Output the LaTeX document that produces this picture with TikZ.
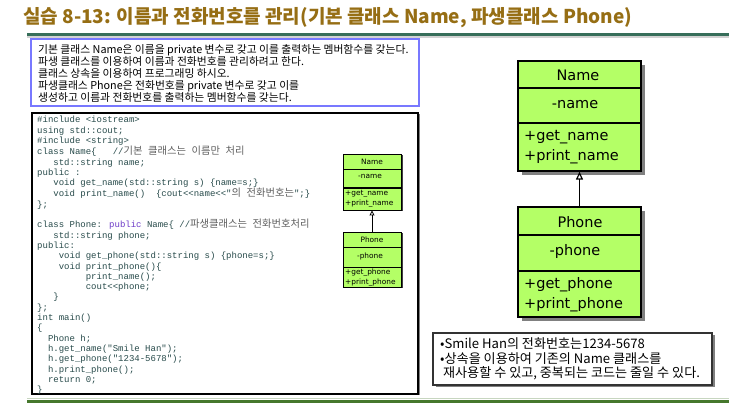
\documentclass[tikz,border=0pt]{standalone}
\usepackage{fontspec}
\usetikzlibrary{arrows.meta,shadows}
\newfontfamily\krfont{Noto Sans CJK KR}
\newfontfamily\umlfont{DejaVu Sans}
\newfontfamily\codefont{Liberation Mono}
\newcommand\spc[1]{\kern#1\fontcharwd\font`\x\relax}
\newcommand\ksp{\kern5.6pt\relax}
\definecolor{titlebrown}{RGB}{150,110,20}
\definecolor{barteal}{RGB}{55,110,90}
\definecolor{bargreen}{RGB}{70,120,45}
\definecolor{bluebd}{RGB}{120,120,255}
\definecolor{umlgreen}{RGB}{180,255,102}
\definecolor{codecol}{RGB}{40,75,75}
\definecolor{krcode}{RGB}{95,95,95}
\definecolor{kwpurple}{RGB}{110,60,200}
\newcommand\kc[1]{{\krfont\fontsize{10.3}{10.25}\selectfont\color{krcode}#1}}
\begin{document}
\begin{tikzpicture}[x=1pt,y=-1pt,
  umlbig/.style={draw=black,fill=umlgreen,line width=1.3pt,inner sep=0pt,
    drop shadow={shadow xshift=4pt,shadow yshift=-4pt,fill=gray,opacity=1}},
  umlsmall/.style={draw=black,fill=umlgreen,line width=0.9pt,inner sep=0pt,
    drop shadow={shadow xshift=1.5pt,shadow yshift=-1.5pt,fill=darkgray,opacity=1}},
  bigtxt/.style={font=\umlfont\fontsize{14.5}{17}\selectfont,inner sep=0pt},
  smalltxt/.style={font=\umlfont\fontsize{7.4}{8.5}\selectfont,inner sep=0pt},
  krtxt/.style={font=\krfont\fontsize{10.8}{12}\selectfont,inner sep=0pt},
  notetxt/.style={font=\krfont\fontsize{13.1}{14}\selectfont,inner sep=0pt},
  inherit/.style={-{Triangle[open,length=8pt,width=7pt]},line width=1.2pt},
  inheritsm/.style={-{Triangle[open,length=5pt,width=5pt]},line width=0.8pt}]
\useasboundingbox (0,0) rectangle (729,403);
\fill[white] (0,0) rectangle (729,403);

% title and bars
\node[anchor=west,inner sep=0pt,text=titlebrown,font=\krfont\bfseries\fontsize{19}{21}\selectfont] (title) at (23,18)
  {실습 8-13: 이름과 전화번호를 관리(기본 클래스 Name, 파생클래스 Phone)};
\draw[line width=3pt,barteal] (27,34.5) -- (729,34.5);
\draw[line width=1.2pt,gray!35] (27,37) -- (729,37);
\draw[line width=1pt,bargreen!30] (27,398.5) -- (729,398.5);
\draw[line width=3pt,bargreen] (27,401.5) -- (729,401.5);

% requirement box
\node[draw=bluebd,line width=2pt,minimum width=388,minimum height=67,inner sep=0pt] (req) at (225,72.5) {};
\node[krtxt,anchor=north west,align=left] (reqtext) at (38,44.5)
  {기본 클래스 Name은 이름을 private 변수로 갖고 이를 출력하는 멤버함수를 갖는다.\\
   파생 클래스를 이용하여 이름과 전화번호를 관리하려고 한다.\\
   클래스 상속을 이용하여 프로그래밍 하시오.\\
   파생클래스 Phone은 전화번호를 private 변수로 갖고 이를\\
   생성하고 이름과 전화번호를 출력하는 멤버함수를 갖는다.};

% code box
\node[draw=black,line width=1.2pt,minimum width=386,minimum height=281,inner sep=0pt,
  drop shadow={shadow xshift=1.5pt,shadow yshift=-1.5pt,fill=gray,opacity=1},fill=white] (codebox) at (225,253.5) {};
\node[anchor=north west,align=left,inner sep=0pt,text=codecol,
  font=\codefont\fontsize{9}{10.3}\selectfont] (code) at (37,116)
  {\#include <iostream>\\
   using std::cout;\\
   \#include <string>\\
   class Name\{\spc{3}//\kc{기본\ksp 클래스는\ksp 이름만\ksp 처리}\\
   \spc{3}std::string name;\\
   public :\\
   \spc{3}void get\_name(std::string s) \{name=s;\}\\
   \spc{3}void print\_name()\spc{2}\{cout<<name<<"\kc{의\ksp 전화번호는}";\}\\
   \};\\
   \mbox{}\\
   class Phone: {\color{kwpurple}public} Name\{ //\kc{파생클래스는\ksp 전화번호처리}\\
   \spc{3}std::string phone;\\
   public:\\
   \spc{4}void get\_phone(std::string s) \{phone=s;\}\\
   \spc{4}void print\_phone()\{\\
   \spc{9}print\_name();\\
   \spc{9}cout<<phone;\\
   \spc{3}\}\\
   \};\\
   int main()\\
   \{\\
   \spc{2}Phone h;\\
   \spc{2}h.get\_name("Smile Han");\\
   \spc{2}h.get\_phone("1234-5678");\\
   \spc{2}h.print\_phone();\\
   \spc{2}return 0;\\
   \}};

% small UML
\node[umlsmall,minimum width=58,minimum height=56] (nameSm) at (372,182) {};
\draw[line width=0.9pt] (343,169) -- (401,169);
\draw[line width=1.6pt] (343,188) -- (401,188);
\node[smalltxt] (nameSmT) at (372,162) {Name};
\node[smalltxt] (nameSmA) at (370,176.5) {-name};
\node[smalltxt,anchor=west] (nameSmM1) at (345,194) {+get\_name};
\node[smalltxt,anchor=west] (nameSmM2) at (345,203.5) {+print\_name};

\node[umlsmall,minimum width=58,minimum height=55] (phoneSm) at (372,259.5) {};
\draw[line width=0.9pt] (343,247) -- (401,247);
\draw[line width=0.9pt] (343,267) -- (401,267);
\node[smalltxt] (phoneSmT) at (372,239.5) {Phone};
\node[smalltxt] (phoneSmA) at (370,256) {-phone};
\node[smalltxt,anchor=west] (phoneSmM1) at (345,273) {+get\_phone};
\node[smalltxt,anchor=west] (phoneSmM2) at (345,282.5) {+print\_phone};
\draw[inheritsm] (phoneSm.north) -- (nameSm.south);

% big UML
\node[umlbig,minimum width=123,minimum height=110] (nameBig) at (579.5,116) {};
\draw[line width=1.8pt] (518,88) -- (641,88);
\draw[line width=1.8pt] (518,123) -- (641,123);
\node[bigtxt] (nameBigT) at (578,75) {Name};
\node[bigtxt] (nameBigA) at (575,105) {-name};
\node[bigtxt,anchor=west] (nameBigM1) at (524,137.5) {+get\_name};
\node[bigtxt,anchor=west] (nameBigM2) at (524,157) {+print\_name};

\node[umlbig,minimum width=123,minimum height=110] (phoneBig) at (579.5,262) {};
\draw[line width=1.8pt] (518,235) -- (641,235);
\draw[line width=1.8pt] (518,271) -- (641,271);
\node[bigtxt] (phoneBigT) at (580,222) {Phone};
\node[bigtxt] (phoneBigA) at (575,252) {-phone};
\node[bigtxt,anchor=west] (phoneBigM1) at (524,285) {+get\_phone};
\node[bigtxt,anchor=west] (phoneBigM2) at (524,304.5) {+print\_phone};
\draw[inherit] (phoneBig.north) -- (nameBig.south);

% note box
\node[draw=black!80,line width=1.2pt,fill=white,minimum width=279,minimum height=52,inner sep=0pt,
  drop shadow={shadow xshift=2.5pt,shadow yshift=-2.5pt,fill=gray,opacity=1}] (note) at (572.5,359) {};
\node[notetxt,anchor=west] (note1) at (440,344) {•Smile Han의 전화번호는1234-5678};
\node[notetxt,anchor=west] (note2) at (440,358.5) {•상속을 이용하여 기존의 Name 클래스를};
\node[notetxt,anchor=west] (note3) at (440,373) {\ 재사용할 수 있고, 중복되는 코드는 줄일 수 있다.};
\end{tikzpicture}
\end{document}
